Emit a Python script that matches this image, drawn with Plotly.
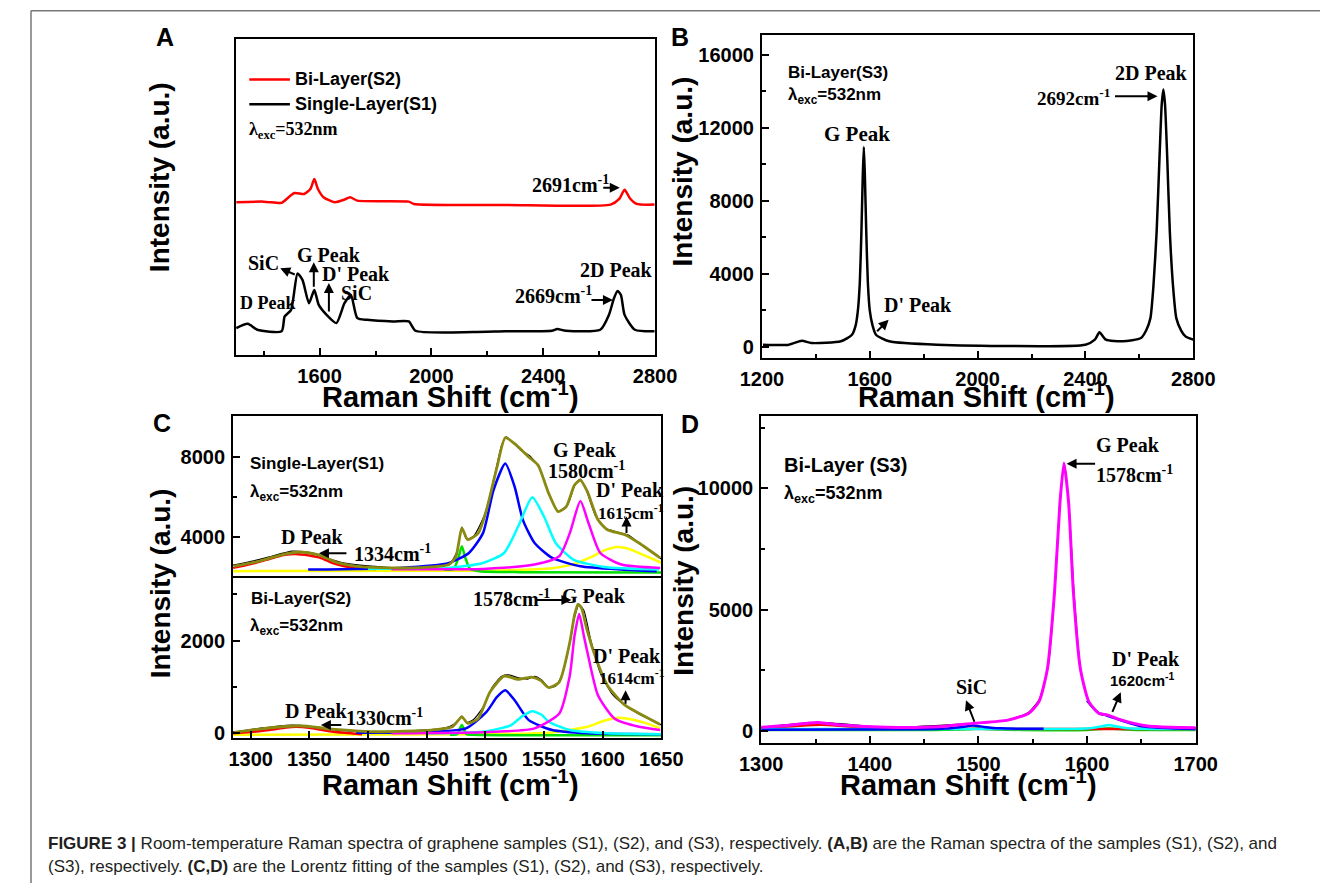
import plotly.graph_objects as go

W, H = 1342, 889
ARIAL = "Liberation Sans, Arial, sans-serif"
TIMES = "Liberation Serif, Times New Roman, serif"

# ---------------- Panel A data ----------------
a_s1_x = [1302, 1343, 1377, 1464, 1475, 1498, 1521, 1539, 1562, 1581, 1597, 1625, 1660, 1689, 1712, 1735,
          1770, 1862, 1919, 1943, 2150, 2265, 2431, 2450, 2481, 2604, 2635, 2653, 2666, 2678, 2691, 2728, 2798]
a_s1_y = [27, 31.3, 25.3, 23.7, 38.7, 45.3, 82, 75.3, 52, 65.3, 50.3, 40.3, 32, 52, 60.3, 37,
          35.3, 33.7, 33.7, 24.3, 23, 23.7, 24.3, 26, 24.3, 25.3, 40.3, 57, 64.3, 60.3, 40.3, 25.3, 23.7]
a_s2_x = [1302, 1400, 1464, 1475, 1510, 1545, 1567, 1581, 1594, 1614, 1654, 1689, 1709, 1735, 1919, 1937,
          2265, 2641, 2672, 2691, 2710, 2734, 2798]
a_s2_y = [153.7, 154.3, 153, 155.3, 163, 162, 167, 177, 167, 158.7, 153.7, 156.3, 158.7, 155.3, 154.3, 152,
          151, 151.3, 157, 166.3, 157.7, 152, 151.3]

# ---------------- Panel B data ----------------
b_x = [1204, 1300, 1348, 1383, 1493, 1534, 1548, 1556, 1563, 1569, 1574, 1578, 1582, 1587, 1593, 1600, 1610,
       1623, 1672, 1850, 2400, 2435, 2452, 2476, 2538, 2606, 2625, 2641, 2652, 2664, 2675, 2683, 2689, 2695,
       2703, 2713, 2725, 2737, 2755, 2771, 2800]
b_y = [125, 125, 343, 218, 310, 670, 1200, 2000, 3500, 6300, 9300, 10950, 9300, 6300, 3500, 2000, 1200,
       670, 310, 125, 125, 400, 800, 400, 310, 490, 900, 1580, 3300, 6300, 10500, 13300, 14100, 13300,
       10500, 6300, 3300, 1580, 900, 580, 400]

# ---------------- Panel C (top, S1) data ----------------
c1_raw_x = [1285, 1295, 1305, 1315, 1325, 1335, 1345, 1355, 1365, 1380, 1400, 1420, 1440, 1460, 1470, 1476,
            1480, 1484, 1490, 1500, 1508, 1514, 1518, 1522, 1530, 1538, 1546, 1554, 1562, 1570, 1576, 1581,
            1586, 1594, 1602, 1612, 1622, 1632, 1642, 1650]
c1_raw_y = [2600, 2720, 2850, 3000, 3160, 3300, 3280, 3180, 2950, 2700, 2560, 2480, 2500, 2560, 2700, 3300,
            4500, 3900, 4050, 5200, 7100, 8600, 9000, 8800, 8350, 8050, 7450, 6200, 5300, 5600, 6550, 6900,
            6350, 5050, 4450, 4250, 4100, 3650, 3250, 2900]
c1_fit_x = [1286, 1307, 1327, 1342, 1357, 1375, 1395, 1439, 1469, 1475, 1480, 1485, 1494, 1501, 1510, 1517,
            1525, 1537, 1545, 1554, 1562, 1569, 1576, 1581, 1587, 1596, 1604, 1619, 1631, 1649]
c1_fit_y = [2548, 2795, 3127, 3256, 3127, 2711, 2513, 2463, 2632, 3043, 4446, 3871, 4198, 5358, 7505, 8957,
            8660, 8000, 7588, 6181, 5274, 5522, 6597, 6845, 6265, 4862, 4367, 4119, 3703, 2959]
c1_red_x = [1285, 1300, 1316, 1328, 1338, 1350, 1360, 1370, 1380, 1395, 1407]
c1_red_y = [2463, 2650, 2910, 3100, 3157, 3080, 2959, 2700, 2548, 2450, 2414]
c1_green_x = [1465, 1473, 1477, 1480, 1483, 1487, 1495, 1530, 1650]
c1_green_y = [2380, 2414, 2959, 3538, 2959, 2414, 2300, 2250, 2230]
c1_blue_x = [1349, 1427, 1469, 1486, 1498, 1507, 1517, 1525, 1532, 1542, 1557, 1581, 1616, 1646]
c1_blue_y = [2384, 2463, 2711, 3207, 4198, 6350, 7668, 6513, 4862, 3703, 2959, 2548, 2384, 2300]
c1_cyan_x = [1400, 1469, 1498, 1516, 1528, 1540, 1550, 1560, 1575, 1601, 1648]
c1_cyan_y = [2420, 2463, 2711, 3207, 4530, 5983, 5026, 3703, 2880, 2513, 2384]
c1_mag_x = [1420, 1498, 1542, 1563, 1572, 1581, 1588, 1598, 1616, 1649]
c1_mag_y = [2400, 2414, 2632, 3043, 4198, 5804, 4694, 3207, 2632, 2463]
c1_yel_x = [1285, 1450, 1520, 1557, 1575, 1590, 1600, 1612, 1622, 1632, 1641, 1650]
c1_yel_y = [2300, 2320, 2350, 2450, 2650, 3000, 3300, 3500, 3420, 3180, 2950, 2720]

# ---------------- Panel C (bottom, S2) data ----------------
c2_raw_x = [1285, 1295, 1305, 1315, 1325, 1335, 1345, 1355, 1365, 1380, 1400, 1420, 1440, 1460, 1470, 1476,
            1480, 1484, 1490, 1498, 1506, 1514, 1520, 1528, 1536, 1542, 1548, 1554, 1560, 1566, 1572, 1576,
            1580, 1584, 1590, 1598, 1608, 1618, 1630, 1642, 1650]
c2_raw_y = [30, 60, 100, 130, 160, 175, 165, 130, 95, 55, 30, 40, 60, 90, 150, 250, 370, 230, 300, 560,
            1000, 1230, 1260, 1200, 1170, 1230, 1150, 990, 1020, 1300, 1950, 2500, 2780, 2650, 2000, 1300,
            850, 620, 430, 280, 180]
c2_fit_x = [1286, 1307, 1342, 1369, 1410, 1454, 1472, 1480, 1485, 1494, 1504, 1516, 1528, 1539.5, 1547, 1554,
            1563, 1572, 1576, 1579, 1582, 1586, 1592.5, 1604, 1619, 1634, 1649]
c2_fit_y = [21, 92, 163, 92, 34, 71, 141, 356, 214, 322, 892, 1235, 1164, 1214, 1143, 986,
            1106, 1964, 2550, 2790, 2700, 2300, 1750, 1036, 607, 392, 193]
c2_red_x = [1285, 1300, 1316, 1330, 1339, 1350, 1366, 1380, 1395]
c2_red_y = [0, 30, 71, 125, 141, 120, 50, 10, -20]
c2_green_x = [1470, 1476, 1480, 1484, 1490, 1520, 1650]
c2_green_y = [-30, -20, 178, -20, -30, -40, -40]
c2_blue_x = [1390, 1439, 1483.5, 1501, 1510, 1517, 1525, 1537, 1557, 1587, 1650]
c2_blue_y = [10, 21, 107, 463, 785, 928, 714, 285, 71, 0, -20]
c2_cyan_x = [1450, 1498, 1522, 1532, 1540, 1548, 1554, 1572, 1604, 1650]
c2_cyan_y = [0, 34, 178, 380, 478, 400, 250, 71, 0, -20]
c2_mag_x = [1420, 1498, 1542, 1563, 1572, 1576, 1580, 1584, 1587, 1596, 1610, 1631, 1649]
c2_mag_y = [0, 21, 107, 428, 1250, 2100, 2573, 2100, 1750, 821, 321, 141, 71]
c2_yel_x = [1285, 1500, 1557, 1587, 1600, 1613, 1625, 1637, 1649]
c2_yel_y = [-30, -20, 20, 141, 260, 335, 300, 220, 107]

# ---------------- Panel D data ----------------
d_raw_x = [1300, 1352, 1415, 1495, 1527, 1546, 1556, 1564, 1570, 1575, 1579, 1583, 1588, 1594, 1602, 1611,
           1619, 1632, 1654, 1700]
d_raw_y = [150, 350, 150, 310, 450, 760, 1300, 2650, 5700, 9400, 11000, 9400, 5600, 2500, 1150, 720,
           640, 450, 215, 135]
d_fit_x = [1300, 1320, 1352, 1374, 1415.5, 1463, 1495, 1527, 1546, 1555.6, 1563.5, 1570, 1575, 1578.7, 1583,
           1587.4, 1593.8, 1601.7, 1611, 1619, 1632, 1654, 1676.6, 1700]
d_fit_y = [152, 217, 357, 246, 152, 176, 316, 451, 726, 1201, 2570, 5711, 9401, 11050, 9401,
           5711, 2570, 1201, 726, 656, 451, 217, 152, 135]
d_red_x = [1300, 1330, 1355, 1380, 1420, 1700]
d_red_y = [120, 200, 260, 190, 110, 80]
d_blue_x = [1300, 1450, 1470, 1485, 1495, 1505, 1520, 1560, None, 1600, 1610, 1618, 1626, 1634, 1650, 1700]
d_blue_y = [50, 70, 100, 170, 230, 170, 110, 90, None, 1250, 760, 640, 520, 400, 200, 80]
d_cyan_x = [1300, 1400, 1500, 1590, 1605, 1614, 1620, 1626, 1635, 1650, 1700]
d_cyan_y = [82, 82, 85, 95, 130, 200, 250, 200, 130, 95, 85]
d_green_x = [1300, 1460, 1490, 1500, 1512, 1540, 1600, 1612, 1620, 1628, 1645, 1700]
d_green_y = [40, 45, 70, 100, 70, 45, 45, 80, 120, 80, 45, 40]

# tick labels of panel A
a_ticks = ["1600", "2000", "2400", "2800"]

OLIVE = "#8A8A12"
RED, BLUE, CYAN, MAG, YEL, GRN = "#FF0000", "#0000FF", "#00FFFF", "#FF00FF", "#FFFF00", "#00E000"

fig = go.Figure()


def line(x, y, color, width, xa, ya):
    fig.add_trace(go.Scatter(x=x, y=y, mode="lines",
                             line=dict(color=color, width=width, shape="spline", smoothing=0.6),
                             xaxis=xa, yaxis=ya, showlegend=False, hoverinfo="skip", connectgaps=False))


# Panel A
line(a_s2_x, a_s2_y, RED, 2.5, "x", "y")
line(a_s1_x, a_s1_y, "black", 2.5, "x", "y")
# Panel B
line(b_x, b_y, "black", 2.5, "x2", "y2")
# Panel C top
line(c1_raw_x, c1_raw_y, "black", 1.2, "x3", "y3")
line(c1_yel_x, c1_yel_y, YEL, 2.5, "x3", "y3")
line(c1_green_x, c1_green_y, GRN, 2.5, "x3", "y3")
line(c1_red_x, c1_red_y, RED, 2.5, "x3", "y3")
line(c1_blue_x, c1_blue_y, BLUE, 2.5, "x3", "y3")
line(c1_cyan_x, c1_cyan_y, CYAN, 2.5, "x3", "y3")
line(c1_mag_x, c1_mag_y, MAG, 2.5, "x3", "y3")
line(c1_fit_x, c1_fit_y, OLIVE, 2.8, "x3", "y3")
# Panel C bottom
line(c2_raw_x, c2_raw_y, "black", 1.2, "x4", "y4")
line(c2_yel_x, c2_yel_y, YEL, 2.5, "x4", "y4")
line(c2_green_x, c2_green_y, GRN, 2.5, "x4", "y4")
line(c2_red_x, c2_red_y, RED, 2.5, "x4", "y4")
line(c2_blue_x, c2_blue_y, BLUE, 2.5, "x4", "y4")
line(c2_cyan_x, c2_cyan_y, CYAN, 2.5, "x4", "y4")
line(c2_mag_x, c2_mag_y, MAG, 2.5, "x4", "y4")
line(c2_fit_x, c2_fit_y, OLIVE, 2.8, "x4", "y4")
# Panel D
line(d_green_x, d_green_y, GRN, 2.5, "x5", "y5")
line(d_red_x, d_red_y, RED, 2.5, "x5", "y5")
line(d_cyan_x, d_cyan_y, CYAN, 2.5, "x5", "y5")
line(d_blue_x, d_blue_y, BLUE, 2.5, "x5", "y5")
line(d_raw_x, d_raw_y, "black", 1.5, "x5", "y5")
line(d_fit_x, d_fit_y, MAG, 3, "x5", "y5")


def dom(a, b, total, flip=False):
    if flip:
        return [1 - b / total, 1 - a / total]
    return [a / total, b / total]


TICKFONT = dict(family=ARIAL, size=20, color="black", weight="bold")


def axis(domain, rng, anchor, dtick=None, tick0=0, minor=None, labels=True, ticks="inside", tickvals=None,
         mirror=True, side=None):
    d = dict(domain=domain, range=rng, anchor=anchor, showline=True, linecolor="black", linewidth=2,
             mirror=mirror, showgrid=False, zeroline=False, ticks=ticks, ticklen=7, tickwidth=2,
             tickcolor="black", tickfont=TICKFONT, showticklabels=labels, ticklabelstandoff=2,
             tickformat="d", exponentformat="none", separatethousands=False)
    if side is not None:
        d["side"] = side
    if dtick is not None:
        d.update(dtick=dtick, tick0=tick0)
    if tickvals is not None:
        d.update(tickvals=tickvals)
    if minor is not None:
        d["minor"] = dict(dtick=minor, tick0=tick0, ticks="inside", ticklen=4, tickwidth=2, tickcolor="black")
    return d


layout = dict(
    width=W, height=H, margin=dict(l=0, r=0, t=0, b=0),
    paper_bgcolor="white", plot_bgcolor="white", showlegend=False,
    xaxis=axis(dom(221, 654.5, W), [1300, 2800], "y", tickvals=[float(t) for t in a_ticks], minor=200),
    yaxis=axis(dom(39.3, 357.3, H, True), [0, 318], "x", labels=False, ticks=""),
    xaxis2=axis(dom(765, 1211, W), [1200, 2800], "y2", dtick=400, minor=200),
    yaxis2=axis(dom(35, 360, H, True), [-580, 17090], "x2", dtick=4000, minor=2000),
    xaxis3=axis(dom(218.2, 661, W), [1285, 1650], "y3", dtick=50, labels=False, ticks="", mirror=False,
                side="top"),
    yaxis3=axis(dom(419.3, 581.7, H, True), [1970, 10020], "x3", dtick=4000, minor=2000),
    xaxis4=axis(dom(218.2, 661, W), [1285, 1650], "y4", dtick=50),
    yaxis4=axis(dom(581.7, 743.3, H, True), [-107, 3357], "x4", dtick=2000, minor=1000),
    xaxis5=axis(dom(764.3, 1213.5, W), [1300, 1700], "y5", dtick=100, minor=50),
    yaxis5=axis(dom(419, 748.3, H, True), [-503, 12976], "x5", dtick=5000, minor=2500),
)
layout["xaxis"]["ticktext"] = a_ticks
fig.update_layout(**layout)

ann = []
shapes = []


def P(x, y):
    return x / W, 1 - y / H


def txt(s, x, y, size, family=TIMES, xanchor="left", yanchor="middle", angle=0, bold=True, color="black"):
    X, Y = P(x, y)
    ann.append(dict(text=s, x=X, y=Y, xref="paper", yref="paper", xanchor=xanchor, yanchor=yanchor,
                    showarrow=False, textangle=angle,
                    font=dict(family=family, size=size, color=color, weight="bold" if bold else "normal")))


def arr(x0, y0, x1, y1):
    X, Y = P(x1, y1)
    ann.append(dict(text="", x=X, y=Y, xref="paper", yref="paper", ax=x0 - x1, ay=y0 - y1,
                    showarrow=True, arrowhead=2, arrowsize=1, arrowwidth=2, arrowcolor="black", standoff=0))


SUP = "cm<sup>-1</sup>"
LAM = "λ<sub>exc</sub>=532nm"

# Panel letters and axis titles
for L, x, y in [("A", 148, 37), ("B", 680.5, 37), ("C", 145, 426), ("D", 691, 427)]:
    txt(L, x, y, 25, ARIAL, xanchor="center")
for x, y in [(142, 178), (683, 173), (143, 587), (683, 585)]:
    txt("Intensity (a.u.)", x, y, 28, ARIAL, xanchor="center", angle=-90)
for x, y in [(443, 398), (997, 398), (443, 788), (979, 788)]:
    txt("Raman Shift (" + SUP + ")", x, y, 29, ARIAL, xanchor="center")

# Panel A legend & labels
shapes.append(dict(type="line", xref="paper", yref="paper", x0=235 / W, x1=277 / W, y0=1 - 80 / H, y1=1 - 80 / H,
                   line=dict(color=RED, width=2.5)))
shapes.append(dict(type="line", xref="paper", yref="paper", x0=235 / W, x1=277 / W, y0=1 - 105 / H, y1=1 - 105 / H,
                   line=dict(color="black", width=2.5)))
txt("Bi-Layer(S2)", 280, 80, 18, ARIAL)
txt("Single-Layer(S1)", 280, 105, 18, ARIAL)
txt(LAM, 233, 131, 18, TIMES)
txt("2691" + SUP, 525, 185, 20)
arr(600, 189, 618, 189)
txt("SiC", 232, 265, 20)
arr(283, 277, 267, 270)
txt("G Peak", 282.5, 257, 20)
arr(301.7, 290, 301.7, 264)
txt("D' Peak", 308, 276, 20)
arr(317.3, 315, 317.3, 285)
txt("SiC", 327.7, 295, 20)
txt("D Peak", 223.3, 305, 18)
txt("2D Peak", 575, 272, 20)
txt("2669" + SUP, 507.5, 297, 20)
arr(588, 302, 611, 302)

# Panel B labels
txt("Bi-Layer(S3)", 790, 73, 17, ARIAL)
txt(LAM, 790, 97, 17, ARIAL)
txt("G Peak", 827.5, 135, 21)
txt("D' Peak", 889, 307, 20)
arr(883, 335, 896, 322)
txt("2D Peak", 1128, 73, 20)
txt("2692" + SUP, 1047.6, 98, 19)
arr(1130, 97, 1174, 97)

# Panel C labels
txt("Single-Layer(S1)", 234, 467, 17, ARIAL)
txt(LAM, 234, 496, 17, ARIAL)
txt("D Peak", 266, 541, 20)
txt("1334" + SUP, 341, 557, 20)
arr(336, 557, 307, 557)
txt("G Peak", 547, 453, 20)
txt("1580" + SUP, 542, 473, 20)
txt("D' Peak", 591, 493, 20)
txt("1615" + SUP, 593, 515, 17)
arr(625, 538, 625, 520)
txt("Bi-Layer(S2)", 235, 603, 17, ARIAL)
txt(LAM, 234, 631, 17, ARIAL)
txt("1578" + SUP, 464.6, 602, 20)
arr(532, 604, 568, 604)
txt("G Peak", 556, 600, 20)
txt("D' Peak", 588, 660, 20)
txt("1614" + SUP, 595, 682, 17)
arr(624, 710, 624, 695)
txt("D Peak", 270, 716, 20)
txt("1330" + SUP, 332.5, 722, 20)
arr(331, 730, 309, 730)

# Panel D labels
txt("Bi-Layer (S3)", 786, 468, 20, ARIAL)
txt(LAM, 786, 498, 18, ARIAL)
txt("G Peak", 1108.6, 448, 20)
txt("1578" + SUP, 1108.6, 477, 20)
arr(1110, 467, 1080, 467)
txt("D' Peak", 1124.6, 663, 20)
txt("1620" + SUP, 1123, 684, 15, ARIAL)
arr(1127, 718, 1136, 697)
txt("SiC", 964, 692, 20)
arr(985, 728, 976, 705)

# Caption
txt("<b>FIGURE 3 |</b> Room-temperature Raman spectra of graphene samples (S1), (S2), and (S3), respectively. "
    "<b>(A,B)</b> are the Raman spectra of the samples (S1), (S2), and", 25, 849, 17, ARIAL, bold=False,
    color="#231f20")
txt("(S3), respectively. <b>(C,D)</b> are the Lorentz fitting of the samples (S1), (S2), and (S3), respectively.",
    25, 872, 17, ARIAL, bold=False, color="#231f20")

# Frame lines
shapes.append(dict(type="line", xref="paper", yref="paper", x0=9.3 / W, x1=1.0, y0=1 - 10.7 / H, y1=1 - 10.7 / H,
                   line=dict(color="#777777", width=1.5)))
shapes.append(dict(type="line", xref="paper", yref="paper", x0=9.3 / W, x1=9.3 / W, y0=1 - 10.7 / H, y1=0,
                   line=dict(color="#777777", width=1.5)))

fig.update_layout(annotations=ann, shapes=shapes)
fig.write_html("out.html")
